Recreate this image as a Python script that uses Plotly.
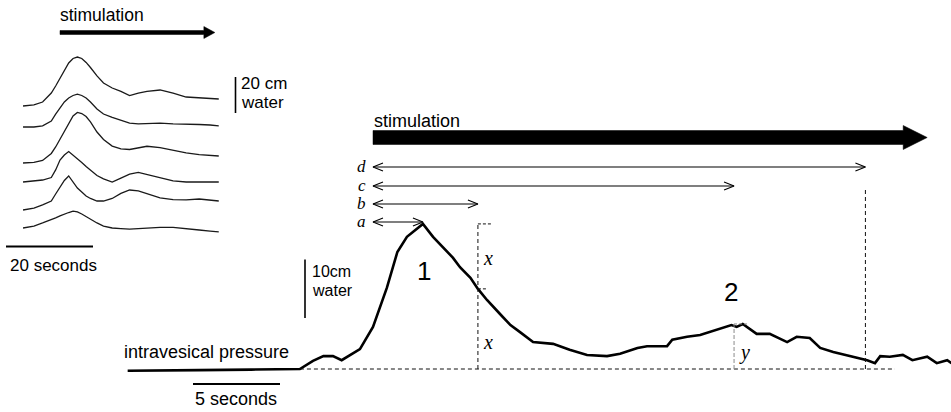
import plotly.graph_objects as go

# ---------------- data ----------------
# main recording: time (s, 0 = start of stimulation) and intravesical pressure (cm water)
MAIN_T = [-14.1, -12.8, -10.0, -7.0, -4.2, -3.45, -2.85, -2.3, -1.8, -0.75, 0.0, 0.8, 1.4,
          1.95, 2.3, 2.6, 2.87, 3.45, 4.0, 4.6, 5.0, 5.6, 6.03, 6.55, 7.3, 7.9, 8.45, 9.2,
          10.35, 11.3, 12.3, 13.45, 14.2, 15.2, 15.75, 16.9, 17.2, 18.05, 18.8, 19.55, 20.1,
          20.6, 20.9, 21.25, 22.05, 22.8, 23.8, 24.35, 25.1, 25.7, 26.45, 27.6, 28.4, 28.85,
          29.15, 29.7, 30.45, 31.0, 31.85, 32.4, 33.0, 33.25]
MAIN_P = [-0.3, -0.3, -0.2, -0.1, 0.0, 1.4, 2.2, 2.2, 1.5, 3.4, 7.2, 13.9, 20.0,
          22.6, 23.4, 24.1, 24.8, 22.6, 20.9, 19.0, 17.4, 15.6, 13.7, 11.8, 9.4, 7.5, 6.3, 4.6,
          4.3, 3.3, 2.4, 2.2, 2.6, 3.6, 3.9, 3.9, 5.0, 5.5, 5.8, 6.5, 7.0,
          7.5, 7.2, 7.7, 6.0, 6.0, 4.6, 5.5, 5.3, 3.6, 2.9, 2.1, 1.5, 1.0,
          2.2, 2.1, 2.4, 1.5, 2.1, 1.0, 1.5, 1.0]

INTERVAL_LABELS = ["a", "b", "c", "d"]
INTERVAL_ENDS = [2.87, 6.03, 20.75, 28.3]      # s after stimulation onset
PEAK1_P = 24.8                                  # cm water
X_MID_P = 13.7                                  # cm water
PEAK2_P = 7.7                                   # cm water
STIM_END = 31.85                                # s
BASELINE_SPAN = [-4.2, 30.0]                    # s
SCALE_TIME = 5                                  # s
SCALE_PRESS = 10                                # cm water
PEAK_LABELS = ["1", "2"]

# inset: six superimposed responses (time in s, pressure in cm water above own baseline)
INSET_T = [-8.5, -6, -4, -2, -1, 0, 1, 2, 3, 4, 5, 6, 7, 8.5, 10, 12, 14, 16, 18, 20,
           23, 26, 29, 32, 34.5, 36.5]
INSET_P = [
    [0, 0.6, 2.2, 7.2, 11.1, 15.6, 20.0, 23.9, 26.4, 27.2, 26.4, 24.2, 21.4, 16.7, 12.8,
     10.0, 8.1, 5.8, 7.2, 8.1, 8.9, 7.2, 5.0, 4.4, 4.2, 3.9],
    [0, 0, 0.6, 3.3, 7.2, 10.6, 13.9, 16.1, 17.5, 18.3, 17.5, 16.1, 13.9, 10.0, 7.2,
     5.3, 3.6, 2.2, 1.7, 1.9, 2.2, 1.7, 1.7, 1.4, 1.1, 0.6],
    [0, 0.3, 1.4, 5.3, 8.9, 13.3, 18.1, 22.2, 26.1, 28.1, 27.5, 25.8, 22.8, 17.2, 13.1,
     9.4, 7.8, 7.5, 8.6, 9.3, 8.6, 6.9, 5.6, 4.7, 4.4, 3.9],
    [0, 0.6, 1.1, 2.5, 6.7, 12.2, 15.0, 16.9, 15.0, 13.1, 10.8, 8.6, 6.4, 3.6, 1.7,
     0, 2.2, 4.4, 5.3, 4.2, 2.2, 0.6, 0, 0, 0, 0],
    [0, 1.1, 2.8, 5.0, 8.9, 12.8, 16.4, 18.9, 15.6, 12.2, 10.0, 7.8, 6.4, 5.0, 5.0,
     6.4, 9.2, 11.1, 10.6, 8.9, 6.7, 5.8, 5.6, 6.1, 5.6, 5.0],
    [0, 1.1, 2.8, 4.4, 5.6, 6.7, 7.8, 8.6, 9.4, 8.9, 7.8, 6.4, 4.7, 2.8, 1.1,
     0, -0.3, -0.6, -0.3, 0, 0.3, 0.3, -0.6, -1.1, -1.7, -2.2],
]
INSET_STIM_END = 35.6      # s
INSET_SCALE_TIME = 20      # s
INSET_SCALE_PRESS = 20     # cm water

# ---------------- layout geometry (pixels) ----------------
W, H = 951, 412
M_SX, M_SY, M_X0, M_Y0 = 17.4, 5.85, 373, 369     # main: px per s, px per cm, origin
I_SX, I_SY, I_X0 = 4.35, 1.8, 60                  # inset: px per s, px per cm, t=0 px


def mx(px):
    return (px - M_X0) / M_SX


def my(py):
    return (M_Y0 - py) / M_SY


def ix(px):
    return (px - I_X0) / I_SX


def iy(py):
    return (H - py) / I_SY


INSET_BASE_PY = [106, 127, 163, 182, 210, 228]

fig = go.Figure()
BLACK = "#000000"


def main_line(x, y, width=1.0, color=BLACK, dash=None):
    fig.add_trace(go.Scatter(x=x, y=y, mode="lines", xaxis="x", yaxis="y",
                             line=dict(color=color, width=width, dash=dash),
                             hoverinfo="skip", showlegend=False))


def inset_line(x, y, width=1.0, color=BLACK):
    fig.add_trace(go.Scatter(x=x, y=y, mode="lines", xaxis="x2", yaxis="y2",
                             line=dict(color=color, width=width),
                             hoverinfo="skip", showlegend=False))


# ---- main trace ----
main_line(MAIN_T, MAIN_P, width=2.6)

# ---- dashed guide lines ----
DASH = "4px,3px"
GUIDE = "#111111"
main_line(BASELINE_SPAN, [0, 0], width=1, dash=DASH, color=GUIDE)
b_end = INTERVAL_ENDS[1]
main_line([b_end, b_end], [0, PEAK1_P], width=1, dash=DASH, color=GUIDE)
main_line([b_end, b_end + 13 / M_SX], [PEAK1_P, PEAK1_P], width=1, dash="3px,2px", color=GUIDE)
main_line([b_end, b_end + 10 / M_SX], [X_MID_P, X_MID_P], width=1, dash="3px,2px", color=GUIDE)
d_end = INTERVAL_ENDS[3]
main_line([d_end, d_end], [0, my(187)], width=1, dash=DASH, color=GUIDE)
c_end = INTERVAL_ENDS[2]
main_line([c_end, c_end], [0, PEAK2_P], width=1, dash="4px,2px", color="#8a8a8a")
main_line([c_end, c_end + 14 / M_SX], [PEAK2_P, PEAK2_P], width=1, dash="3px,2px", color="#8a8a8a")

# ---- interval double arrows ----
ROW_PY = [222, 204, 186, 167]
AL, AH = 10 / M_SX, 4 / M_SY
for end, py in zip(INTERVAL_ENDS, ROW_PY):
    r = my(py)
    xs = [0, end, None, AL, 0, AL, None, end - AL, end, end - AL]
    ys = [r, r, None, r + AH, r, r - AH, None, r + AH, r, r - AH]
    main_line(xs, ys, width=1.1)

# ---- big stimulation arrow ----
c = my(137.5)
hs, hh = 7 / M_SY, 12 / M_SY
tb = STIM_END - 24 / M_SX
fig.add_trace(go.Scatter(x=[0, tb, tb, STIM_END, tb, tb, 0, 0],
                         y=[c + hs, c + hs, c + hh, c, c - hh, c - hs, c - hs, c + hs],
                         mode="lines", fill="toself", fillcolor=BLACK,
                         line=dict(color=BLACK, width=0.5), xaxis="x", yaxis="y",
                         hoverinfo="skip", showlegend=False))

# ---- main scale bars ----
sb_x = mx(305)
sb_y0 = my(318)
main_line([sb_x, sb_x], [sb_y0, sb_y0 + SCALE_PRESS], width=1.6)
st_x0 = mx(193)
main_line([st_x0, st_x0 + SCALE_TIME], [my(384), my(384)], width=1.8)

# ---- inset traces ----
for base_py, p in zip(INSET_BASE_PY, INSET_P):
    off = iy(base_py)
    inset_line(INSET_T, [off + v for v in p], width=1.3, color="#1a1a1a")

# inset stimulation arrow
ic = iy(32.5)
ihs, ihh = 2 / I_SY, 6 / I_SY
itb = INSET_STIM_END - 11 / I_SX
fig.add_trace(go.Scatter(x=[0, itb, itb, INSET_STIM_END, itb, itb, 0, 0],
                         y=[ic + ihs, ic + ihs, ic + ihh, ic, ic - ihh, ic - ihs, ic - ihs, ic + ihs],
                         mode="lines", fill="toself", fillcolor=BLACK,
                         line=dict(color=BLACK, width=0.5), xaxis="x2", yaxis="y2",
                         hoverinfo="skip", showlegend=False))

# inset scale bars
isb_x = ix(235.5)
isb_y0 = iy(113)
inset_line([isb_x, isb_x], [isb_y0, isb_y0 + INSET_SCALE_PRESS], width=1.6)
ist_x0 = ix(6)
inset_line([ist_x0, ist_x0 + INSET_SCALE_TIME], [iy(246.5), iy(246.5)], width=1.8)

# ---------------- text ----------------
SANS = "Liberation Sans, Arial, sans-serif"
SERIF = "Liberation Serif, Times New Roman, serif"
ann = []


def txt(s, px, py, size, xanchor="left", font=SANS, italic=False):
    ann.append(dict(text=f"<i>{s}</i>" if italic else s, x=px / W, y=1 - py / H,
                    xref="paper", yref="paper", xanchor=xanchor, yanchor="middle",
                    showarrow=False, font=dict(family=font, size=size, color=BLACK)))


txt("stimulation", 372, 121, 18)
for lab, py in zip(INTERVAL_LABELS, ROW_PY):
    txt(lab, 368, py - 1, 17, xanchor="right", font=SERIF, italic=True)
txt("x", 481, 258, 20, font=SERIF, italic=True)
txt("x", 481, 342, 20, font=SERIF, italic=True)
txt("y", 737, 352, 20, font=SERIF, italic=True)
txt(PEAK_LABELS[0], 424, 271, 26, xanchor="center")
txt(PEAK_LABELS[1], 731, 292, 26, xanchor="center")
txt(f"{SCALE_PRESS}cm", 310, 271, 16)
txt("water", 310, 290, 16)
txt("intravesical pressure", 122, 352, 18)
txt(f"{SCALE_TIME} seconds", 236, 399, 18, xanchor="center")
txt("stimulation", 58, 15, 17.5)
txt(f"{INSET_SCALE_PRESS} cm", 239, 83, 17)
txt("water", 239, 102, 17)
txt(f"{INSET_SCALE_TIME} seconds", 8, 265, 17)

axis_common = dict(visible=False, showgrid=False, zeroline=False, fixedrange=True)
fig.update_layout(
    width=W, height=H, margin=dict(l=0, r=0, t=0, b=0),
    paper_bgcolor="white", plot_bgcolor="rgba(0,0,0,0)", showlegend=False,
    xaxis=dict(domain=[0, 1], range=[mx(0), mx(W)], anchor="y", **axis_common),
    yaxis=dict(domain=[0, 1], range=[my(H), my(0)], anchor="x", **axis_common),
    xaxis2=dict(range=[ix(0), ix(W)], anchor="y2", overlaying="x", **axis_common),
    yaxis2=dict(range=[iy(H), iy(0)], anchor="x2", overlaying="y", **axis_common),
    annotations=ann,
)

fig.write_html("out.html")
